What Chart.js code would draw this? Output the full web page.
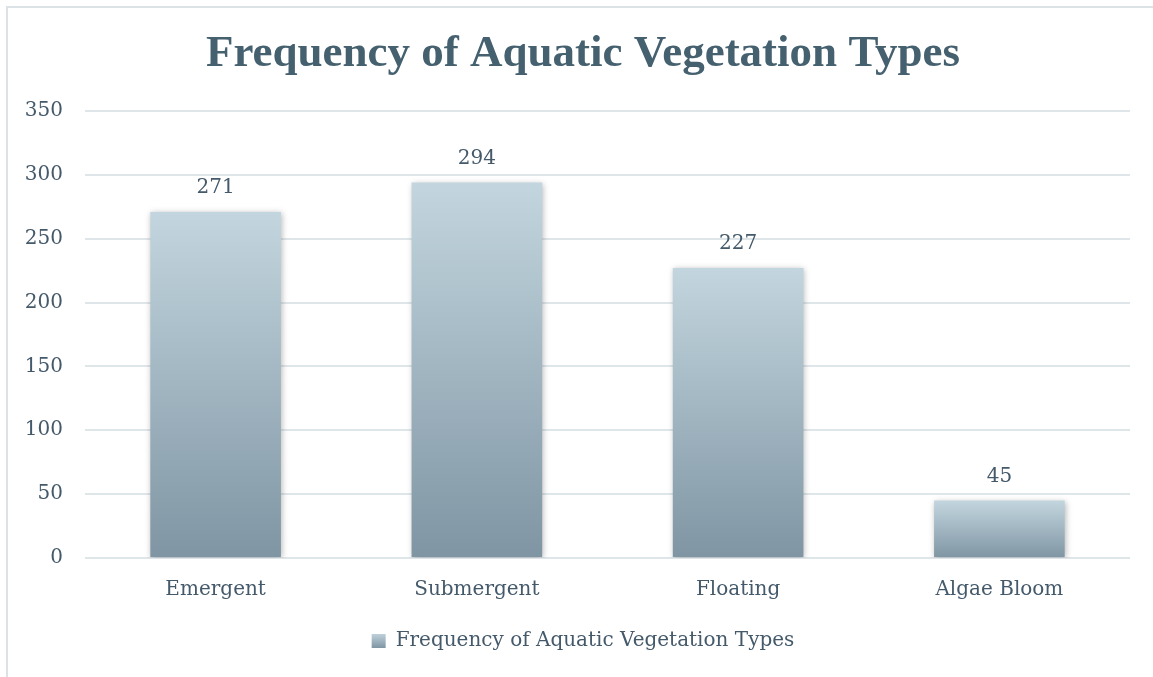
<!DOCTYPE html>
<html>
<head>
<meta charset="utf-8">
<script src="https://cdn.jsdelivr.net/npm/chart.js@4/dist/chart.umd.min.js"></script>
<style>
html,body{margin:0;padding:0;background:#fff;}
#wrap{width:1153px;height:677px;position:relative;}
</style>
</head>
<body>
<div id="wrap"><canvas id="c" width="1153" height="677"></canvas></div>
<script>
const categories = ["Emergent", "Submergent", "Floating", "Algae Bloom"];
const frequencyValues = [271, 294, 227, 45];
const seriesName = "Frequency of Aquatic Vegetation Types";
const chartTitle = "Frequency of Aquatic Vegetation Types";
const yTicksMin = 0, yTicksMax = 350, yTicksStep = 50;

const TEXT = "#44596a";
const TOP_C = "#c3d6df";
const BOT_C = "#7f95a3";

function barGradient(ctx) {
  const chart = ctx.chart;
  const ys = chart.scales && chart.scales.y;
  if (!chart.chartArea || !ys || ctx.raw === undefined) return "#a3b7c2";
  const top = ys.getPixelForValue(ctx.raw);
  const base = ys.getPixelForValue(0);
  const g = chart.ctx.createLinearGradient(0, top, 0, base);
  g.addColorStop(0, TOP_C);
  g.addColorStop(1, BOT_C);
  return g;
}

const framePlugin = {
  id: "frame",
  beforeDraw(chart) {
    const c = chart.ctx;
    c.save();
    c.fillStyle = "#fff";
    c.fillRect(0, 0, chart.width, chart.height);
    c.strokeStyle = "#dce3e7";
    c.lineWidth = 2;
    c.beginPath();
    c.moveTo(7, chart.height);
    c.lineTo(7, 7);
    c.lineTo(chart.width, 7);
    c.stroke();
    c.restore();
  }
};

const shadowPlugin = {
  id: "barShadow",
  beforeDatasetsDraw(chart) {
    const c = chart.ctx;
    c.save();
    c.shadowColor = "rgba(0,0,0,0.28)";
    c.shadowBlur = 6;
    c.shadowOffsetX = 1;
    c.shadowOffsetY = 1;
  },
  afterDatasetsDraw(chart) {
    chart.ctx.restore();
  }
};

const valueLabelPlugin = {
  id: "valueLabels",
  afterDatasetsDraw(chart) {
    const c = chart.ctx;
    c.save();
    c.font = "20px 'DejaVu Serif'";
    c.fillStyle = TEXT;
    c.textAlign = "center";
    c.textBaseline = "bottom";
    chart.data.datasets.forEach((ds, di) => {
      const meta = chart.getDatasetMeta(di);
      meta.data.forEach((el, i) => {
        c.fillText(String(ds.data[i]), el.x, el.y - 14);
      });
    });
    c.restore();
  }
};

new Chart(document.getElementById("c"), {
  type: "bar",
  data: {
    labels: categories,
    datasets: [{
      label: seriesName,
      data: frequencyValues,
      backgroundColor: barGradient,
      borderWidth: 0,
      barPercentage: 1.0,
      categoryPercentage: 0.5
    }]
  },
  options: {
    responsive: false,
    animation: false,
    devicePixelRatio: 1,
    layout: { padding: { left: 36, right: 23, top: 20, bottom: 16 } },
    plugins: {
      tooltip: { enabled: false },
      title: {
        display: true,
        text: chartTitle,
        color: "#45606f",
        font: { family: "'Liberation Serif'", size: 45, weight: "bold", lineHeight: 1.2 },
        padding: { top: 7, bottom: 30 }
      },
      legend: {
        display: true,
        position: "bottom",
        labels: {
          color: TEXT,
          font: { family: "'DejaVu Serif'", size: 20 },
          boxWidth: 14,
          boxHeight: 14,
          padding: 9,
          generateLabels(chart) {
            const g = chart.ctx.createLinearGradient(0, 633, 0, 648);
            g.addColorStop(0, TOP_C);
            g.addColorStop(1, BOT_C);
            return [{
              text: seriesName,
              fillStyle: g,
              strokeStyle: "rgba(0,0,0,0)",
              lineWidth: 0,
              hidden: false,
              datasetIndex: 0,
              fontColor: TEXT
            }];
          }
        }
      }
    },
    scales: {
      x: {
        grid: { display: false, drawTicks: false },
        border: { display: false },
        ticks: { color: TEXT, font: { family: "'DejaVu Serif'", size: 20 }, padding: 20 }
      },
      y: {
        min: yTicksMin,
        max: yTicksMax,
        grid: { color: "#dfe6ea", lineWidth: 2, drawTicks: false },
        border: { display: false },
        afterFit(scale) {
          scale.width = 49;
          scale._computeLabelArea = function () { return undefined; };
        },
        ticks: { stepSize: yTicksStep, color: TEXT, font: { family: "'DejaVu Serif'", size: 20 }, padding: 22 }
      }
    }
  },
  plugins: [framePlugin, shadowPlugin, valueLabelPlugin]
});
</script>
</body>
</html>
